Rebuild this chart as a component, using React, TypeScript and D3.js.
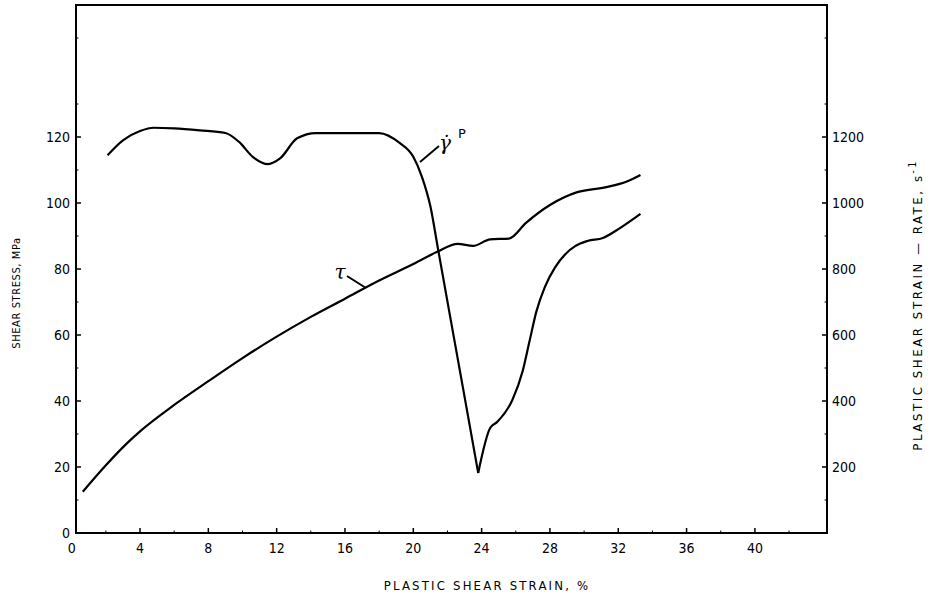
import React from "react";
import * as d3 from "d3";

const xTicks = [0, 4, 8, 12, 16, 20, 24, 28, 32, 36, 40];
const leftTicks = [0, 20, 40, 60, 80, 100, 120];
const rightTicks = [200, 400, 600, 800, 1000, 1200];

// shear stress tau (MPa) vs plastic shear strain (%)
const tauStrain = [0.65, 2, 3.2, 4, 6, 8, 10, 12, 14, 16, 18, 20, 21.4, 22.6, 23.5, 24.5, 25.6, 26.6, 28, 29.6, 31.3, 32.5, 33.3];
const tauStress = [12.5, 20.5, 27, 30.8, 38.8, 46, 53, 59.5, 65.5, 71, 76.5, 81.5, 85.2, 87.6, 87, 89, 89.2, 94, 99.4, 103.3, 104.8, 106.5, 108.5];

// plastic shear strain rate (1/s) vs plastic shear strain (%), before and after the minimum
const rateStrainDown = [2.1, 3, 4, 4.8, 6, 7.5, 9, 9.8, 10.6, 11.5, 12.2, 13.2, 14.3, 16, 18, 19.2, 20, 20.5, 21, 21.45, 22.15, 22.9, 23.8];
const rateValueDown = [1145, 1190, 1218, 1228, 1226, 1220, 1212, 1185, 1140, 1118, 1135, 1196, 1212, 1212, 1212, 1182, 1140, 1080, 990, 860, 658, 442, 182];
const rateStrainUp = [23.8, 24.5, 24.9, 25.8, 26.4, 26.8, 27.2, 27.7, 28.3, 28.9, 29.5, 30.2, 31.1, 32.1, 33.3];
const rateValueUp = [182, 318, 336, 403, 490, 580, 670, 745, 805, 845, 870, 885, 894, 924, 967];

export default function App() {
  const W = 938, H = 602;
  const left = 76, right = 827, top = 5, bottom = 533;
  const x = d3.scaleLinear().domain([0, 40]).range([71.7, 71.7 + 17.08 * 40]);
  const yL = d3.scaleLinear().domain([0, 160]).range([bottom, bottom - 3.3 * 160]);
  const yR = d3.scaleLinear().domain([0, 1600]).range([bottom, bottom - 3.3 * 160]);

  const tauPts: [number, number][] = tauStrain.map((s, i) => [x(s), yL(tauStress[i])]);
  const downPts: [number, number][] = rateStrainDown.map((s, i) => [x(s), yR(rateValueDown[i])]);
  const upPts: [number, number][] = rateStrainUp.map((s, i) => [x(s), yR(rateValueUp[i])]);
  const line = d3.line().curve(d3.curveMonotoneX);

  const font = "'DejaVu Sans Condensed', 'Liberation Sans Narrow', 'DejaVu Sans', sans-serif";
  const minorY = d3.range(10, 160, 10).filter((v) => v % 20 !== 0);
  const minorX = d3.range(2, 44, 2).filter((v) => v % 4 !== 0);

  return (
    <svg width={W} height={H} style={{ position: "absolute", left: 0, top: 0, background: "#fff" }} fontFamily={font}>
      <rect x={0} y={0} width={W} height={H} fill="#fff" />
      {/* frame */}
      <path d={`M${left},${top}H${right}V${bottom}H${left}Z`} fill="none" stroke="#000" strokeWidth={2} />
      {/* x ticks */}
      {xTicks.map((t) => (
        <g key={"xt" + t}>
          {t > 0 && <line x1={x(t)} x2={x(t)} y1={bottom} y2={bottom - 5} stroke="#000" strokeWidth={1.5} />}
          <text x={x(t)} y={553} textAnchor="middle" fontSize={14} fill="#000">{t}</text>
        </g>
      ))}
      {minorX.map((t) => (
        <line key={"xm" + t} x1={x(t)} x2={x(t)} y1={bottom} y2={bottom - 2.5} stroke="#000" strokeWidth={1} />
      ))}
      {/* left ticks */}
      {leftTicks.map((t) => (
        <g key={"yl" + t}>
          <line x1={left} x2={left + 5} y1={yL(t)} y2={yL(t)} stroke="#000" strokeWidth={1.5} />
          <text x={70} y={yL(t) + 5} textAnchor="end" fontSize={14} fill="#000">{t}</text>
        </g>
      ))}
      {minorY.map((t) => (
        <g key={"ym" + t}>
          <line x1={left} x2={left + 2.5} y1={yL(t)} y2={yL(t)} stroke="#000" strokeWidth={1} />
          <line x1={right} x2={right - 2.5} y1={yL(t)} y2={yL(t)} stroke="#000" strokeWidth={1} />
        </g>
      ))}
      {/* right ticks */}
      {rightTicks.map((t) => (
        <g key={"yr" + t}>
          <line x1={right} x2={right - 5} y1={yR(t)} y2={yR(t)} stroke="#000" strokeWidth={1.5} />
          <text x={832} y={yR(t) + 5} textAnchor="start" fontSize={14} fill="#000">{t}</text>
        </g>
      ))}
      {/* axis titles */}
      <text x={487} y={590} textAnchor="middle" fontSize={13} letterSpacing={2.2} fill="#000">PLASTIC SHEAR STRAIN, %</text>
      <text transform="translate(20,293) rotate(-90)" textAnchor="middle" fontSize={11} letterSpacing={0.6} fill="#000">SHEAR STRESS, MPa</text>
      <text transform="translate(922,305) rotate(-90)" textAnchor="middle" fontSize={13} letterSpacing={2.6} fill="#000">
        PLASTIC SHEAR STRAIN — RATE, s<tspan dy={-6} fontSize={10}>-1</tspan>
      </text>
      {/* curves */}
      <path d={line(tauPts) || ""} fill="none" stroke="#000" strokeWidth={2.2} />
      <path d={line(downPts) || ""} fill="none" stroke="#000" strokeWidth={2.2} />
      <path d={line(upPts) || ""} fill="none" stroke="#000" strokeWidth={2.2} />
      {/* curve labels */}
      <text x={340} y={279} textAnchor="middle" fontSize={20} fontStyle="italic" fontFamily="'DejaVu Serif', serif" fill="#000">τ</text>
      <line x1={347} y1={276} x2={366} y2={288} stroke="#000" strokeWidth={2} />
      <line x1={420} y1={162} x2={439} y2={146} stroke="#000" strokeWidth={1.8} />
      <text x={445} y={150} textAnchor="middle" fontSize={20} fontStyle="italic" fontFamily="'DejaVu Serif', serif" fill="#000">γ̇</text>
      <text x={462} y={138} textAnchor="middle" fontSize={13} fontFamily="'DejaVu Sans', sans-serif" fill="#000">P</text>
    </svg>
  );
}
